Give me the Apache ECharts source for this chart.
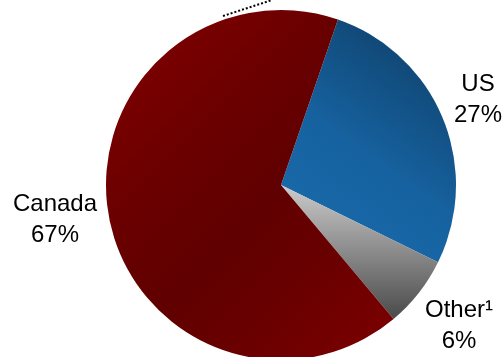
<!DOCTYPE html>
<html>
<head>
<meta charset="utf-8">
<script src="https://cdn.jsdelivr.net/npm/echarts@6/dist/echarts.min.js"></script>
<style>
html,body{margin:0;padding:0;background:#fff;}
#chart{width:503px;height:357px;}
</style>
</head>
<body>
<div id="chart"></div>
<script>
var categories = ['US', 'Other¹', 'Canada'];
var shares = [27, 6.6, 66.4];
var shareLabels = ['27%', '6%', '67%'];

var gradients = [
  new echarts.graphic.LinearGradient(0, 1, 1, 0, [
    {offset: 0, color: '#1a6cae'},
    {offset: 0.45, color: '#1662a0'},
    {offset: 1, color: '#0e3a60'}
  ]),
  new echarts.graphic.LinearGradient(0, 0, 0, 1, [
    {offset: 0, color: '#cbcbcb'},
    {offset: 1, color: '#4a4a4a'}
  ]),
  new echarts.graphic.LinearGradient(140, 44, 422, 326, [
    {offset: 0, color: '#7c0000'},
    {offset: 0.3, color: '#690000'},
    {offset: 0.5, color: '#600000'},
    {offset: 0.7, color: '#690000'},
    {offset: 1, color: '#7c0000'}
  ], true)
];

var labelSpots = [
  {x: 478, y: 100},
  {x: 459, y: 326},
  {x: 55, y: 220}
];

var chart = echarts.init(document.getElementById('chart'), null, {renderer: 'canvas'});
chart.setOption({
  animation: false,
  series: [{
    type: 'pie',
    center: [281, 185],
    radius: 175,
    startAngle: 71,
    clockwise: true,
    avoidLabelOverlap: false,
    silent: true,
    label: {
      show: true,
      position: 'outside',
      fontFamily: 'Liberation Sans, Arial, sans-serif',
      fontSize: 24,
      lineHeight: 31,
      color: '#000',
      align: 'center',
      formatter: function (p) { return categories[p.dataIndex] + '\n' + shareLabels[p.dataIndex]; }
    },
    labelLine: {show: false},
    labelLayout: function (p) {
      var s = labelSpots[p.dataIndex];
      return {x: s.x, y: s.y, align: 'center', verticalAlign: 'middle'};
    },
    itemStyle: {borderWidth: 0},
    data: categories.map(function (c, i) {
      return {name: c, value: shares[i], itemStyle: {color: gradients[i]}};
    })
  }],
  graphic: [{
    type: 'polyline',
    shape: {points: [[223, 16], [272, 0]]},
    style: {stroke: '#000', lineWidth: 2, lineDash: [2, 2], fill: null}
  }]
});
</script>
</body>
</html>
